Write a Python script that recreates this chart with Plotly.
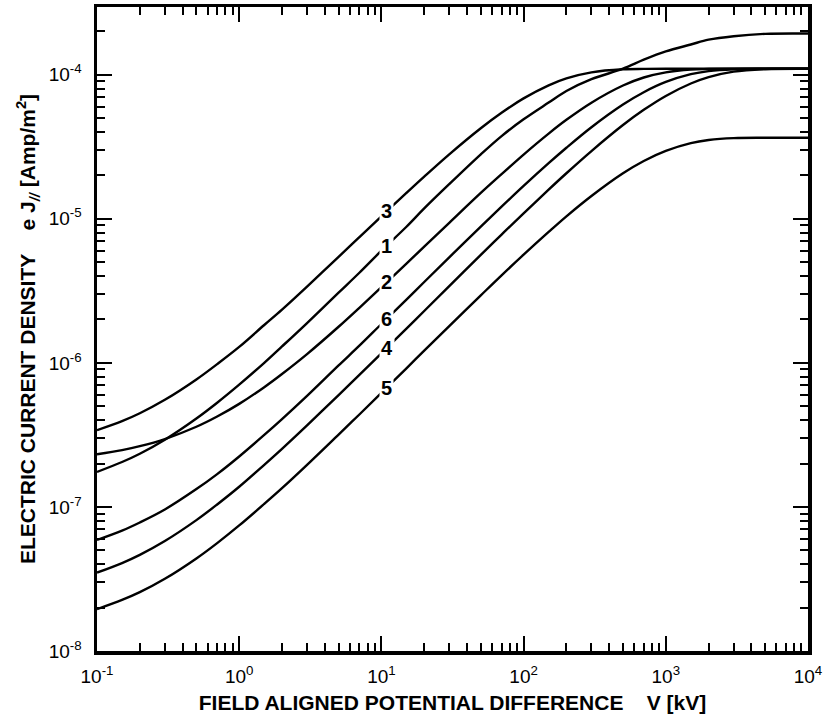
import numpy as np
import plotly.graph_objects as go

# Field aligned potential difference V [kV]
V_kv = [0.1, 0.15, 0.2, 0.3, 0.5, 0.7, 1, 1.5, 2, 3, 5, 7, 10, 15, 20, 30, 50, 70, 100, 150,
        200, 300, 500, 700, 1000, 1500, 2000, 3000, 5000, 10000]

# Electric current density e J// [Amp/m^2]
curve_3 = [3.41e-7, 3.94e-7, 4.47e-7, 5.54e-7, 7.67e-7, 9.8e-7, 1.29e-6, 1.83e-6, 2.34e-6, 3.38e-6,
           5.44e-6, 7.45e-6, 1.04e-5, 1.51e-5, 1.96e-5, 2.80e-5, 4.25e-5, 5.44e-5, 6.85e-5, 8.44e-5,
           9.43e-5, 1.038e-4, 1.09e-4, 1.097e-4, 1.10e-4, 1.10e-4, 1.10e-4, 1.10e-4, 1.10e-4, 1.10e-4]
curve_1 = [1.75e-7, 2.05e-7, 2.34e-7, 2.93e-7, 4.11e-7, 5.29e-7, 7.06e-7, 1.0e-6, 1.30e-6, 1.89e-6,
           3.07e-6, 4.22e-6, 6.0e-6, 8.8e-6, 1.18e-5, 1.74e-5, 2.8e-5, 3.75e-5, 4.9e-5, 6.4e-5,
           7.7e-5, 9.3e-5, 1.10e-4, 1.27e-4, 1.45e-4, 1.62e-4, 1.75e-4, 1.85e-4, 1.92e-4, 1.93e-4]
curve_2 = [2.32e-7, 2.48e-7, 2.64e-7, 2.96e-7, 3.60e-7, 4.24e-7, 5.19e-7, 6.78e-7, 8.37e-7, 1.15e-6,
           1.78e-6, 2.41e-6, 3.35e-6, 4.88e-6, 6.4e-6, 9.37e-6, 1.51e-5, 2.04e-5, 2.79e-5, 3.9e-5,
           4.86e-5, 6.39e-5, 8.41e-5, 9.56e-5, 1.038e-4, 1.086e-4, 1.095e-4, 1.10e-4, 1.10e-4, 1.10e-4]
curve_6 = [5.9e-8, 6.85e-8, 7.8e-8, 9.6e-8, 1.33e-7, 1.69e-7, 2.24e-7, 3.16e-7, 4.07e-7, 5.9e-7,
           9.6e-7, 1.315e-6, 1.86e-6, 2.75e-6, 3.64e-6, 5.40e-6, 8.82e-6, 1.213e-5, 1.69e-5, 2.43e-5,
           3.11e-5, 4.32e-5, 6.21e-5, 7.56e-5, 8.9e-5, 1.008e-4, 1.059e-4, 1.091e-4, 1.10e-4, 1.10e-4]
curve_4 = [3.5e-8, 4.08e-8, 4.65e-8, 5.8e-8, 8.1e-8, 1.04e-7, 1.38e-7, 1.96e-7, 2.53e-7, 3.68e-7,
           5.98e-7, 8.24e-7, 1.165e-6, 1.73e-6, 2.29e-6, 3.41e-6, 5.61e-6, 7.77e-6, 1.09e-5, 1.593e-5,
           2.07e-5, 2.95e-5, 4.47e-5, 5.70e-5, 7.12e-5, 8.69e-5, 9.62e-5, 1.05e-4, 1.092e-4, 1.10e-4]
curve_5 = [1.95e-8, 2.26e-8, 2.56e-8, 3.17e-8, 4.39e-8, 5.61e-8, 7.44e-8, 1.05e-7, 1.35e-7, 1.96e-7,
           3.18e-7, 4.38e-7, 6.19e-7, 9.17e-7, 1.214e-6, 1.80e-6, 2.94e-6, 4.05e-6, 5.63e-6, 8.1e-6,
           1.04e-5, 1.44e-5, 2.07e-5, 2.52e-5, 2.96e-5, 3.35e-5, 3.52e-5, 3.63e-5, 3.65e-5, 3.65e-5]

curve_names = ["3", "1", "2", "6", "4", "5"]
curve_values = [curve_3, curve_1, curve_2, curve_6, curve_4, curve_5]

label_V = 10.9  # kV, where the curve numbers sit

x_tickvals = [0.1, 1, 10, 100, 1000, 10000]
x_ticktext = ["10<sup>-1</sup>", "10<sup>0</sup>", "10<sup>1</sup>", "10<sup>2</sup>", "10<sup>3</sup>", "10<sup>4</sup>"]
y_tickvals = [1e-8, 1e-7, 1e-6, 1e-5, 1e-4]
y_ticktext = ["10<sup>-8</sup>", "10<sup>-7</sup>", "10<sup>-6</sup>", "10<sup>-5</sup>", "10<sup>-4</sup>"]

FONT = "Liberation Sans Narrow, Arial Narrow, Liberation Sans, DejaVu Sans, sans-serif"

fig = go.Figure()
for name, vals in zip(curve_names, curve_values):
    fig.add_trace(go.Scatter(x=V_kv, y=vals, mode="lines", name=name,
                             line=dict(color="black", width=2.4, shape="spline", smoothing=1.0),
                             showlegend=False, hoverinfo="skip"))

# curve numbers, placed on the curves (white box breaks the line)
lv = np.log10(V_kv)
for name, vals in zip(curve_names, curve_values):
    ly = np.interp(np.log10(label_V), lv, np.log10(vals))
    fig.add_annotation(x=np.log10(label_V), y=ly, xref="x", yref="y", text="<b>" + name + "</b>",
                       showarrow=False, bgcolor="white", borderpad=1,
                       font=dict(family=FONT, size=20, color="black"))

axis_common = dict(type="log", showline=True, linewidth=3.5, linecolor="black", mirror="allticks",
                   ticks="inside", ticklen=15, tickwidth=2, tickcolor="black",
                   showgrid=False, zeroline=False, automargin=False,
                   minor=dict(ticks="inside", ticklen=8, tickwidth=2, tickcolor="black",
                              dtick="D1", showgrid=False),
                   tickfont=dict(family=FONT, size=19, color="black"))

fig.update_xaxes(range=[-1, 4], tickmode="array", tickvals=x_tickvals, ticktext=x_ticktext,
                 ticklabelstandoff=6,
                 title=dict(text="<b>FIELD ALIGNED POTENTIAL DIFFERENCE&nbsp;&nbsp;&nbsp;&nbsp;V [kV]</b>",
                            font=dict(family=FONT, size=21, color="black"), standoff=10),
                 **axis_common)
fig.update_yaxes(range=[-8, np.log10(2.95e-4)], tickmode="array", tickvals=y_tickvals, ticktext=y_ticktext,
                 ticklabelstandoff=8,
                 title=dict(text="<b>ELECTRIC CURRENT DENSITY&nbsp;&nbsp;&nbsp;&nbsp;e J<sub><i>//</i></sub> [Amp/m<sup>2</sup>]</b>",
                            font=dict(family=FONT, size=21, color="black"), standoff=8),
                 **axis_common)

fig.update_layout(width=829, height=724, paper_bgcolor="white", plot_bgcolor="white",
                  margin=dict(l=97, r=21, t=7, b=73))

fig.write_html("out.html", config={"displayModeBar": False, "staticPlot": True},
               post_script="document.body.style.margin='0';document.body.style.overflow='hidden';")
